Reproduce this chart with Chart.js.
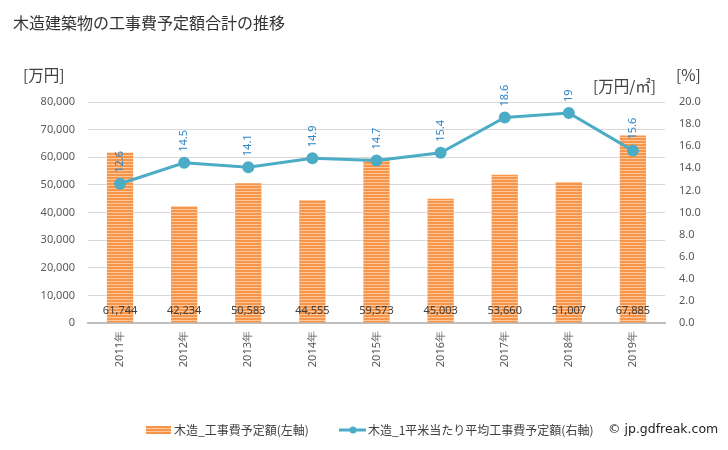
<!DOCTYPE html>
<html>
<head>
<meta charset="utf-8">
<script src="https://cdn.jsdelivr.net/npm/chart.js@4"></script>
<style>
  body { margin: 0; width: 728px; height: 450px; position: relative; background: #fff;
         font-family: "Noto Sans CJK JP", "Noto Sans", sans-serif; overflow: hidden; }
  #wrap { position: absolute; left: 0; top: 0; width: 728px; height: 450px; }
  .txt { position: absolute; white-space: nowrap; color: #404040; }
  #title { left: 13px; top: 10px; font-size: 16px; color: #333; }
  #uLeft { left: 23px; top: 63px; font-size: 15.5px; }
  #uRight { left: 593px; top: 74px; font-size: 15.5px; }
  #uPct { left: 676px; top: 63px; font-size: 15.5px; }
  #leg1 { left: 174px; top: 421px; font-size: 12px; }
  #leg2 { left: 368px; top: 421px; font-size: 12px; }
  #copy { left: 608px; top: 421px; font-size: 12.5px; color: #222; font-family: "DejaVu Sans", sans-serif; }
  .sw { position: absolute; }
</style>
</head>
<body>
<div id="wrap"><canvas id="chart" width="728" height="450"></canvas></div>
<div class="txt" id="title">木造建築物の工事費予定額合計の推移</div>
<div class="txt" id="uLeft">[万円]</div>
<div class="txt" id="uRight">[万円/㎡]</div>
<div class="txt" id="uPct">[%]</div>
<canvas class="sw" id="sw1" width="25" height="8" style="left:146px;top:426px"></canvas>
<div class="txt" id="leg1">木造_工事費予定額(左軸)</div>
<canvas class="sw" id="sw2" width="27" height="10" style="left:339px;top:425px"></canvas>
<div class="txt" id="leg2">木造_1平米当たり平均工事費予定額(右軸)</div>
<div class="txt" id="copy">© jp.gdfreak.com</div>
<script>
// data
const years = ['2011年', '2012年', '2013年', '2014年', '2015年', '2016年', '2017年', '2018年', '2019年'];
const costTotal = [61744, 42234, 50583, 44555, 59573, 45003, 53660, 51007, 67885];
const costPerM2 = [12.6, 14.5, 14.1, 14.9, 14.7, 15.4, 18.6, 19, 15.6];
const costPerM2Labels = ['12.6', '14.5', '14.1', '14.9', '14.7', '15.4', '18.6', '19', '15.6'];

const lineColor = '#4bacc6';
const labelBlue = '#2e86c8';

function stripePattern() {
    const c = document.createElement('canvas');
    c.width = 4; c.height = 3;
    const g = c.getContext('2d');
    g.fillStyle = '#f7964a';
    g.fillRect(0, 0, 4, 3);
    g.fillStyle = '#fcc89c';
    g.fillRect(0, 2, 4, 1);
    return g.createPattern(c, 'repeat');
}

// legend swatches
(function() {
    const s1 = document.getElementById('sw1').getContext('2d');
    s1.fillStyle = stripePattern();
    s1.fillRect(0, 0, 25, 8);
    const s2 = document.getElementById('sw2').getContext('2d');
    s2.strokeStyle = lineColor; s2.lineWidth = 3;
    s2.beginPath(); s2.moveTo(0, 5); s2.lineTo(27, 5); s2.stroke();
    s2.fillStyle = lineColor;
    s2.beginPath(); s2.arc(14, 5, 3.5, 0, Math.PI * 2); s2.fill();
})();

const labelPlugin = {
    id: 'valueLabels',
    afterDatasetsDraw(chart) {
        const ctx = chart.ctx;
        ctx.save();
        // bar values at bottom of bars
        const barMeta = chart.getDatasetMeta(1);
        ctx.font = '11px "Noto Sans", sans-serif';
        ctx.fillStyle = '#404040';
        ctx.textAlign = 'center';
        ctx.textBaseline = 'middle';
        barMeta.data.forEach((el, i) => {
            ctx.fillText(costTotal[i].toLocaleString('en-US'), el.x, chart.chartArea.bottom - 12);
        });
        // line values, rotated, above points
        const lineMeta = chart.getDatasetMeta(0);
        ctx.fillStyle = labelBlue;
        ctx.textAlign = 'left';
        lineMeta.data.forEach((el, i) => {
            ctx.save();
            ctx.translate(el.x, el.y - 11);
            ctx.rotate(-Math.PI / 2);
            ctx.fillText(costPerM2Labels[i], 0, 0);
            ctx.restore();
        });
        ctx.restore();
    }
};

const tickFont = { size: 11, family: '"Noto Sans", sans-serif' };

new Chart(document.getElementById('chart'), {
    data: {
        labels: years,
        datasets: [{
            type: 'line',
            label: '木造_1平米当たり平均工事費予定額(右軸)',
            data: costPerM2,
            yAxisID: 'y2',
            borderColor: lineColor,
            backgroundColor: lineColor,
            borderWidth: 3,
            pointRadius: 4.5,
            pointHoverRadius: 4.5,
            tension: 0,
            order: 0
        }, {
            type: 'bar',
            label: '木造_工事費予定額(左軸)',
            data: costTotal,
            yAxisID: 'y',
            backgroundColor: stripePattern(),
            borderWidth: 0,
            barPercentage: 0.41,
            categoryPercentage: 1,
            order: 1
        }]
    },
    options: {
        responsive: false,
        animation: false,
        events: [],
        layout: { padding: { top: 102, left: 0, right: 0, bottom: 0 } },
        plugins: { legend: { display: false }, tooltip: { enabled: false } },
        scales: {
            x: {
                grid: { display: false, drawTicks: false },
                border: { color: '#bfbfbf', width: 2 },
                ticks: { color: '#595959', font: tickFont, minRotation: 90, maxRotation: 90, padding: 8 },
                afterFit(s) { s.height = 127; }
            },
            y: {
                position: 'left',
                min: 0, max: 80000,
                grid: { color: '#d9d9d9', drawTicks: false },
                border: { display: false },
                ticks: { stepSize: 10000, color: '#595959', font: tickFont, padding: 13,
                         callback: v => v.toLocaleString('en-US') },
                afterFit(s) { s.width = 88; }
            },
            y2: {
                position: 'right',
                min: 0, max: 20,
                grid: { display: false, drawTicks: false },
                border: { display: false },
                ticks: { stepSize: 2, color: '#595959', font: tickFont, padding: 14,
                         callback: v => v.toFixed(1) },
                afterFit(s) { s.width = 63; }
            }
        }
    },
    plugins: [labelPlugin]
});
</script>
</body>
</html>
